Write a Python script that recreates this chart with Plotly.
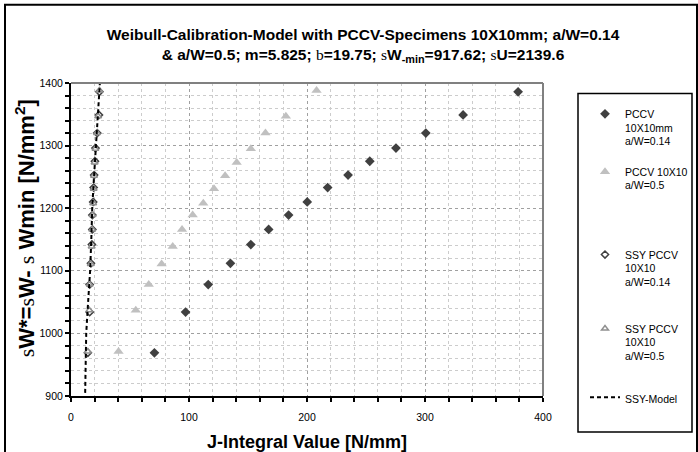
import plotly.graph_objects as go

# ---- data ----
y_14 = [969, 1034, 1078, 1112, 1142, 1166, 1189, 1210, 1233, 1253, 1275, 1296, 1320, 1349, 1386]
j_14 = [70.7, 97.1, 116.3, 135.1, 152.4, 167.5, 184.4, 200.2, 217.5, 234.8, 253.2, 275.4, 300.7, 332.3, 378.9]
y_05 = [971, 1037, 1078, 1111, 1139, 1166, 1189, 1208, 1231, 1252, 1273, 1295, 1320, 1347, 1388]
j_05 = [40.3, 54.9, 65.9, 76.8, 86.2, 94.1, 103.1, 112.1, 121.2, 130.6, 140.4, 152.4, 164.8, 182.1, 208.1]
j_ssy_14 = [14.3, 15.8, 15.8, 16.9, 17.7, 18.1, 18.1, 18.8, 19.2, 19.6, 20.3, 20.7, 22.2, 23.7, 24.1]
j_ssy_05 = [14.3, 15.5, 15.8, 16.7, 17.5, 18.0, 18.3, 18.8, 19.2, 19.5, 20.0, 20.7, 22.0, 23.0, 24.1]
model_j = [12.0, 12.9, 14.5, 16.2, 17.2, 18.0, 19.5, 21.0, 22.5, 24.1, 24.8]
model_y = [905, 1000, 1050, 1100, 1150, 1200, 1250, 1300, 1350, 1400, 1410]

names = ["PCCV<br>10X10mm<br>a/W=0.14",
         "PCCV 10X10<br>a/W=0.5",
         "SSY PCCV<br>10X10<br>a/W=0.14",
         "SSY PCCV<br>10X10<br>a/W=0.5",
         "SSY-Model"]

SERIF = "Liberation Serif, Times New Roman, serif"
SANS = "Liberation Sans, Arial, sans-serif"

def s(ch):
    return f'<span style="font-family:{SERIF};font-weight:normal">{ch}</span>'

L, R, T, B = 71, 155, 82.5, 56
W, H = 698, 452
pw = W - L - R
ph = H - T - B

def px(x):
    return (x - L) / pw

def py(y):
    return (H - B - y) / ph

legend_ids = ["legend", "legend2", "legend3", "legend4", "legend5"]
legend_tops = [100, 158, 241, 315, 384]

fig = go.Figure()
fig.add_trace(go.Scatter(x=j_14, y=y_14, mode="markers", name=names[0], legend=legend_ids[0],
                         marker=dict(symbol="diamond", size=7.5, color="#404040")))
fig.add_trace(go.Scatter(x=j_05, y=y_05, mode="markers", name=names[1], legend=legend_ids[1],
                         marker=dict(symbol="triangle-up", size=9, color="#c0c0c0")))
fig.add_trace(go.Scatter(x=j_ssy_14, y=y_14, mode="markers", name=names[2], legend=legend_ids[2],
                         marker=dict(symbol="diamond", size=5.5, color="white",
                                     line=dict(color="#404040", width=1.5))))
fig.add_trace(go.Scatter(x=j_ssy_05, y=y_05, mode="markers", name=names[3], legend=legend_ids[3],
                         marker=dict(symbol="triangle-up", size=6, color="white",
                                     line=dict(color="#909090", width=1.5))))
fig.add_trace(go.Scatter(x=model_j, y=model_y, mode="lines", name=names[4], legend=legend_ids[4],
                         line=dict(color="black", width=2, dash="4px,3px")))

title = ("<b>Weibull-Calibration-Model with PCCV-Specimens 10X10mm; a/W=0.14<br>"
         f"& a/W=0.5; m=5.825; {s('b')}=19.75; {s('s')}W<sub>-min</sub>=917.62; {s('s')}U=2139.6</b>")

ytitle = f"<b>{s('s')}W*={s('s')}W- {s('s')} Wmin [N/mm<sup>2</sup>]</b>"

legend_common = dict(xanchor="left", yanchor="top", bgcolor="rgba(0,0,0,0)",
                     borderwidth=0, valign="top",
                     font=dict(family=SANS, size=10.5, color="black"))

layout_legends = {}
for lid, top in zip(legend_ids, legend_tops):
    layout_legends[lid] = dict(x=px(585), y=py(top), **legend_common)

fig.update_layout(
    width=W, height=H,
    margin=dict(l=L, r=R, t=T, b=B, autoexpand=False),
    paper_bgcolor="white", plot_bgcolor="white",
    font=dict(family=SANS, size=10.5, color="black"),
    title=dict(text=title, x=363 / W, xanchor="center", xref="container",
               y=1 - 40 / H, yanchor="middle", yref="container",
               font=dict(family=SANS, size=15.5, color="black")),
    showlegend=True,
    xaxis=dict(range=[0, 400], dtick=100, tick0=0, automargin=False,
               showline=True, linecolor="black", linewidth=2,
               ticks="outside", ticklen=4, tickcolor="black", tickwidth=1.5,
               showgrid=True, gridcolor="#a0a0a0", griddash="dot", gridwidth=1,
               zeroline=False, ticklabelstandoff=6,
               minor=dict(dtick=20, ticks="outside", ticklen=4, tickcolor="black",
                          showgrid=True, gridcolor="#cccccc", griddash="dot"),
               tickfont=dict(size=10.5),
               title=dict(text="<b>J-Integral Value [N/mm]</b>", standoff=16,
                          font=dict(size=18, family=SANS))),
    yaxis=dict(range=[900, 1400], dtick=100, tick0=900, automargin=False,
               showline=True, linecolor="black", linewidth=2,
               ticks="outside", ticklen=4, tickcolor="black", tickwidth=1.5,
               showgrid=True, gridcolor="#a0a0a0", griddash="dot", gridwidth=1,
               zeroline=False,
               minor=dict(dtick=20, ticks="outside", ticklen=4, tickcolor="black",
                          showgrid=True, gridcolor="#cccccc", griddash="dot"),
               tickfont=dict(size=10.5)),
    annotations=[
        dict(text=ytitle, textangle=-90, xref="paper", yref="paper",
             x=px(25), y=py(228), xanchor="center", yanchor="middle",
             showarrow=False, font=dict(size=22, family=SANS, color="black")),
    ],
    shapes=[
        # plot area top/right border (gray)
        dict(type="line", xref="paper", yref="paper", x0=0, x1=1, y0=1, y1=1,
             line=dict(color="#808080", width=2)),
        dict(type="line", xref="paper", yref="paper", x0=1, x1=1, y0=0, y1=1,
             line=dict(color="#808080", width=2)),
        # legend box
        dict(type="rect", xref="paper", yref="paper",
             x0=px(578), x1=px(692), y0=py(432), y1=py(93),
             line=dict(color="black", width=1.5), fillcolor="rgba(0,0,0,0)"),
        # outer chart frame
        dict(type="rect", xref="paper", yref="paper",
             x0=px(5), x1=px(697), y0=py(462), y1=py(4),
             line=dict(color="black", width=2), fillcolor="rgba(0,0,0,0)"),
    ],
    **layout_legends,
)

fig.write_html("out.html")
